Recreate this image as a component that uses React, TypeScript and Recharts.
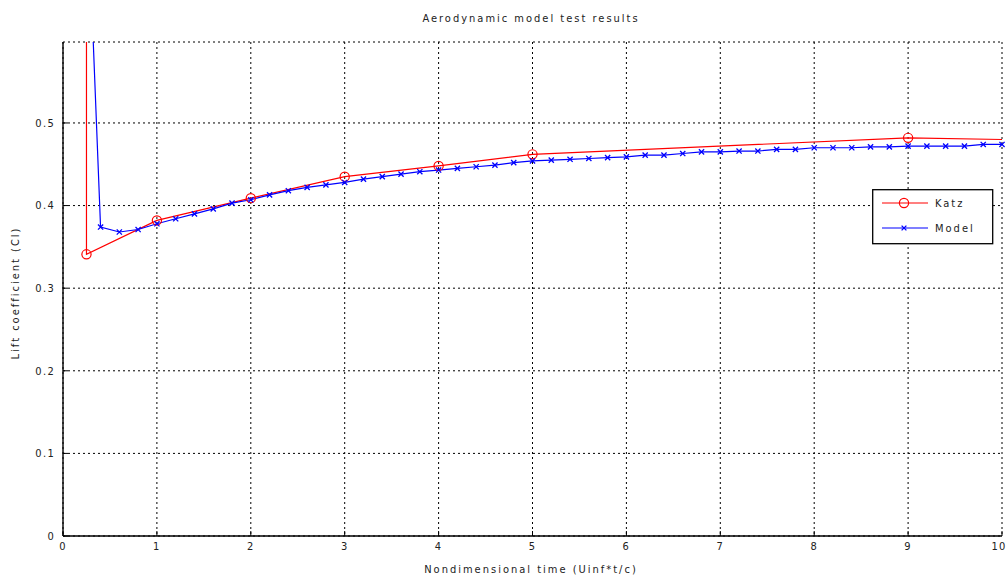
import React from "react";
import {
  LineChart,
  Line,
  XAxis,
  YAxis,
  CartesianGrid,
  Legend,
} from "recharts";

// Katz reference solution (first point is the impulsive start, far above the axes)
const katzTime = [0.25, 0.25, 1, 2, 3, 4, 5, 9, 10];
const katzCl = [1.0, 0.341, 0.382, 0.409, 0.435, 0.448, 0.462, 0.482, 0.48];

// model output, sampled every 0.2 time units
const modelTime = [
  0.2, 0.4, 0.6, 0.8, 1.0, 1.2, 1.4, 1.6, 1.8, 2.0,
  2.2, 2.4, 2.6, 2.8, 3.0, 3.2, 3.4, 3.6, 3.8, 4.0,
  4.2, 4.4, 4.6, 4.8, 5.0, 5.2, 5.4, 5.6, 5.8, 6.0,
  6.2, 6.4, 6.6, 6.8, 7.0, 7.2, 7.4, 7.6, 7.8, 8.0,
  8.2, 8.4, 8.6, 8.8, 9.0, 9.2, 9.4, 9.6, 9.8, 10.0,
];
const modelCl = [
  0.95, 0.374, 0.368, 0.371, 0.378, 0.384, 0.39, 0.396, 0.403, 0.407,
  0.413, 0.418, 0.422, 0.425, 0.428, 0.432, 0.435, 0.438, 0.441, 0.443,
  0.445, 0.447, 0.449, 0.452, 0.454, 0.455, 0.456, 0.457, 0.458, 0.459,
  0.461, 0.461, 0.463, 0.465, 0.465, 0.466, 0.466, 0.468, 0.468, 0.47,
  0.47, 0.47, 0.471, 0.471, 0.472, 0.472, 0.472, 0.472, 0.474, 0.474,
];

const xTicks = [0, 1, 2, 3, 4, 5, 6, 7, 8, 9, 10];
const yTicks = [0, 0.1, 0.2, 0.3, 0.4, 0.5];

const katzData = katzTime.map((t, i) => ({ t, cl: katzCl[i] }));
const modelData = modelTime.map((t, i) => ({ t, cl: modelCl[i] }));

const FONT = "'DejaVu Sans Condensed', 'Liberation Sans', sans-serif";
const textStyle = { fontFamily: FONT, fontSize: 11, letterSpacing: 2, fill: "#222" };
const tickStyle = { ...textStyle, letterSpacing: 1.3 };

const RED = "#ff0000";
const BLUE = "#0000ff";

function CircleDot(props: any) {
  const { cx, cy, index } = props;
  // no marker on the off-scale start point or the trailing end point
  if (index === 0 || index === katzData.length - 1 || cx == null) return null;
  return <circle key={index} cx={cx} cy={cy} r={4.6} stroke={RED} strokeWidth={1.2} fill="none" />;
}

function CrossDot(props: any) {
  const { cx, cy, index } = props;
  if (index === 0 || cx == null) return null;
  const s = 2.6;
  return (
    <path
      key={index}
      d={`M${cx - s},${cy - s}L${cx + s},${cy + s}M${cx - s},${cy + s}L${cx + s},${cy - s}`}
      stroke={BLUE}
      strokeWidth={1.3}
    />
  );
}

// bottom tick labels; the last one is nudged in so it stays on the page
function TimeTick({ x, y, payload }: any) {
  const last = payload.value === xTicks[xTicks.length - 1];
  return (
    <text x={last ? x - 3 : x} y={y + 9} textAnchor="middle" style={tickStyle}>
      {payload.value}
    </text>
  );
}

function LegendBox({ payload }: any) {
  const items = payload ?? [];
  return (
    <svg width={122} height={56} style={{ display: "block" }}>
      <rect x={0.7} y={0.7} width={120} height={54} fill="#fff" stroke="#000" strokeWidth={1.3} />
      {items.map((it: any, i: number) => {
        const y = 14 + i * 25;
        const mx = 32;
        return (
          <g key={it.value}>
            <line x1={10} x2={56} y1={y} y2={y} stroke={it.color} strokeWidth={1.2} />
            {i === 0 ? (
              <circle cx={mx} cy={y} r={4.6} stroke={it.color} strokeWidth={1.2} fill="none" />
            ) : (
              <path
                d={`M${mx - 2.4},${y - 2.4}L${mx + 2.4},${y + 2.4}M${mx - 2.4},${y + 2.4}L${mx + 2.4},${y - 2.4}`}
                stroke={it.color}
                strokeWidth={1.3}
              />
            )}
            <text x={63} y={y + 4} style={textStyle}>
              {it.value}
            </text>
          </g>
        );
      })}
    </svg>
  );
}

export default function App() {
  return (
    <div style={{ width: 1008, height: 579, background: "#fff" }}>
      <style>{"body{margin:0;background:#fff}"}</style>
      <LineChart
        width={1008}
        height={579}
        margin={{ top: 42, right: 6, left: 0, bottom: 0 }}
      >
        <CartesianGrid
          xAxisId="b"
          yAxisId="l"
          stroke="#000"
          strokeDasharray="2 3"
          strokeWidth={1}
        />
        <XAxis
          xAxisId="b"
          type="number"
          dataKey="t"
          domain={[0, 10]}
          ticks={xTicks}
          height={43}
          tickSize={-5}
          tickMargin={10}
          interval={0}
          axisLine={{ stroke: "#000", strokeWidth: 1.4 }}
          tickLine={{ stroke: "#000", strokeWidth: 1 }}
          tick={<TimeTick />}
          allowDuplicatedCategory
        />
        <XAxis
          xAxisId="t"
          orientation="top"
          type="number"
          dataKey="t"
          domain={[0, 10]}
          ticks={xTicks}
          height={0}
          tickSize={-5}
          tick={false}
          axisLine={{ stroke: "#000", strokeWidth: 1.4 }}
          tickLine={{ stroke: "#000", strokeWidth: 1 }}
        />
        <YAxis
          yAxisId="l"
          type="number"
          domain={[0, 0.598]}
          ticks={yTicks}
          width={63}
          allowDataOverflow
          tickSize={-5}
          tickMargin={13}
          interval={0}
          axisLine={{ stroke: "#000", strokeWidth: 1.4 }}
          tickLine={{ stroke: "#000", strokeWidth: 1 }}
          tick={tickStyle}
        />
        <YAxis
          yAxisId="r"
          orientation="right"
          type="number"
          domain={[0, 0.598]}
          ticks={yTicks}
          width={0}
          allowDataOverflow
          tickSize={-5}
          tick={false}
          axisLine={{ stroke: "#000", strokeWidth: 1.4 }}
          tickLine={{ stroke: "#000", strokeWidth: 1 }}
        />
        <Legend
          layout="horizontal"
          verticalAlign="middle"
          align="center"
          content={<LegendBox />}
          wrapperStyle={{ position: "absolute", left: 872, top: 189, width: 122, height: 56 }}
        />
        <Line
          xAxisId="b"
          yAxisId="l"
          data={katzData}
          dataKey="cl"
          name="Katz"
          stroke={RED}
          strokeWidth={1.2}
          dot={CircleDot}
          activeDot={false}
          isAnimationActive={false}
        />
        <Line
          xAxisId="b"
          yAxisId="l"
          data={modelData}
          dataKey="cl"
          name="Model"
          stroke={BLUE}
          strokeWidth={1.2}
          dot={CrossDot}
          activeDot={false}
          isAnimationActive={false}
        />
        <text x={531} y={22} textAnchor="middle" style={textStyle}>
          Aerodynamic model test results
        </text>
        <text x={531} y={573} textAnchor="middle" style={textStyle}>
          Nondimensional time (Uinf*t/c)
        </text>
        <text
          x={19}
          y={293}
          textAnchor="middle"
          transform="rotate(-90 19 293)"
          style={textStyle}
        >
          Lift coefficient (Cl)
        </text>
      </LineChart>
    </div>
  );
}
